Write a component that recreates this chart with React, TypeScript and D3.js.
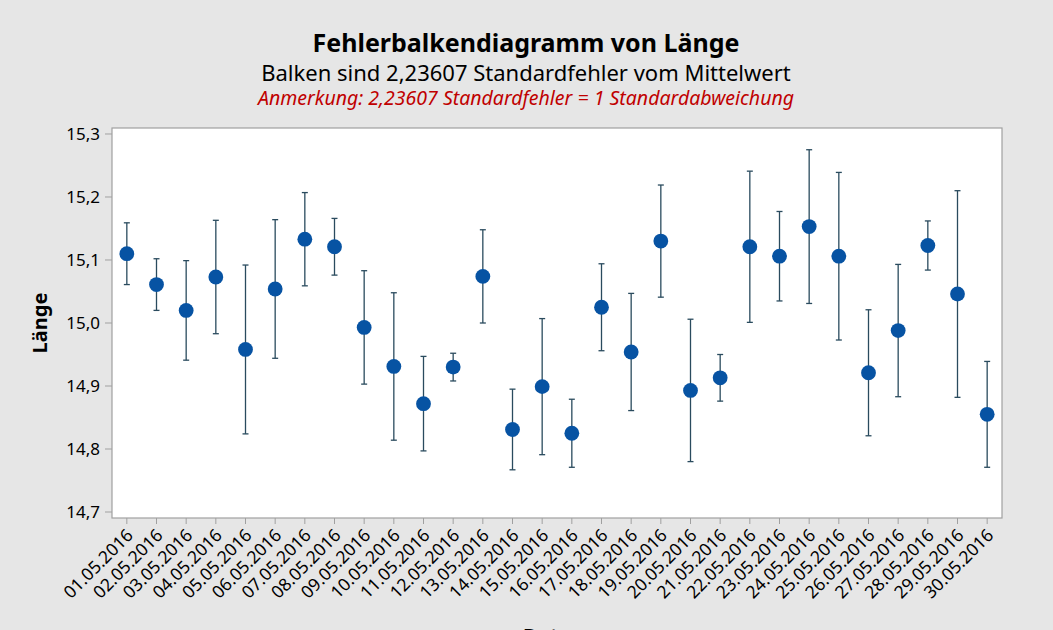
import React from 'react';
import * as d3 from 'd3';

// Fehlerbalkendiagramm (Minitab-Stil): Mittelwert ± 1 Standardabweichung je Tag
const dates = [
  '01.05.2016', '02.05.2016', '03.05.2016', '04.05.2016', '05.05.2016',
  '06.05.2016', '07.05.2016', '08.05.2016', '09.05.2016', '10.05.2016',
  '11.05.2016', '12.05.2016', '13.05.2016', '14.05.2016', '15.05.2016',
  '16.05.2016', '17.05.2016', '18.05.2016', '19.05.2016', '20.05.2016',
  '21.05.2016', '22.05.2016', '23.05.2016', '24.05.2016', '25.05.2016',
  '26.05.2016', '27.05.2016', '28.05.2016', '29.05.2016', '30.05.2016',
];

const means = [
  15.110, 15.061, 15.020, 15.073, 14.958, 15.054, 15.133, 15.121, 14.993, 14.931,
  14.872, 14.930, 15.074, 14.831, 14.899, 14.825, 15.025, 14.954, 15.130, 14.893,
  14.913, 15.121, 15.106, 15.153, 15.106, 14.921, 14.988, 15.123, 15.046, 14.855,
];

// halbe Balkenlänge = 2,23607 Standardfehler = 1 Standardabweichung
const halfWidths = [
  0.049, 0.041, 0.079, 0.090, 0.134, 0.110, 0.074, 0.045, 0.090, 0.117,
  0.075, 0.022, 0.074, 0.064, 0.108, 0.054, 0.069, 0.093, 0.089, 0.113,
  0.037, 0.120, 0.071, 0.122, 0.133, 0.100, 0.105, 0.039, 0.164, 0.084,
];

const yTicks = [14.7, 14.8, 14.9, 15.0, 15.1, 15.2, 15.3];

const W = 1053;
const H = 630;
const PLOT = { left: 112, right: 1002, top: 128, bottom: 518 };
const FONT = '"Noto Sans", "Open Sans", sans-serif';

const de = d3.formatLocale({ decimal: ',', thousands: '.', grouping: [3], currency: ['', ' €'] });
const fmt = de.format('.1f');

export default function App() {
  const x = d3.scalePoint<string>().domain(dates).range([PLOT.left, PLOT.right]).padding(0.5);
  const y = d3.scaleLinear().domain([14.6905, 15.3095]).range([PLOT.bottom, PLOT.top]);

  const cx = 526;
  const plotMid = (PLOT.left + PLOT.right) / 2;

  return (
    <svg
      width={W}
      height={H}
      style={{ position: 'absolute', left: 0, top: 0, display: 'block' }}
      fontFamily={FONT}
    >
      <rect width={W} height={H} fill="#e6e6e6" />

      {/* Titel */}
      <text x={cx} y={52} textAnchor="middle" fontSize={25} fontWeight="bold" fill="#000">
        Fehlerbalkendiagramm von Länge
      </text>
      <text x={cx} y={81} textAnchor="middle" fontSize={22} fill="#000">
        Balken sind 2,23607 Standardfehler vom Mittelwert
      </text>
      <text x={cx} y={105} textAnchor="middle" fontSize={19.5} fontStyle="italic" fill="#c00000">
        Anmerkung: 2,23607 Standardfehler = 1 Standardabweichung
      </text>

      {/* Plotfläche */}
      <rect
        x={PLOT.left}
        y={PLOT.top}
        width={PLOT.right - PLOT.left}
        height={PLOT.bottom - PLOT.top}
        fill="#ffffff"
        stroke="#a0a0a0"
        strokeWidth={1.2}
      />

      {/* Y-Achse */}
      {yTicks.map(t => (
        <g key={t}>
          <line x1={PLOT.left - 7} x2={PLOT.left} y1={y(t)} y2={y(t)} stroke="#a0a0a0" strokeWidth={1} />
          <text x={PLOT.left - 12} y={y(t)} dy="0.35em" textAnchor="end" fontSize={17} fill="#000">
            {fmt(t)}
          </text>
        </g>
      ))}
      <text
        transform={`translate(47,${(PLOT.top + PLOT.bottom) / 2}) rotate(-90)`}
        textAnchor="middle"
        fontSize={20}
        fontWeight="bold"
        fill="#000"
      >
        Länge
      </text>

      {/* X-Achse */}
      {dates.map(d => (
        <g key={d}>
          <line x1={x(d)} x2={x(d)} y1={PLOT.bottom} y2={PLOT.bottom + 6} stroke="#a0a0a0" strokeWidth={1} />
          <text
            transform={`translate(${(x(d) as number) + 3},${PLOT.bottom + 14}) rotate(-45)`}
            textAnchor="end"
            dy="0.35em"
            fontSize={17.5}
            fill="#000"
          >
            {d}
          </text>
        </g>
      ))}
      <text x={plotMid} y={643} textAnchor="middle" fontSize={20} fontWeight="bold" fill="#000">
        Datum
      </text>

      {/* Fehlerbalken und Mittelwerte */}
      {dates.map((d, i) => {
        const px = x(d) as number;
        const yHi = y(means[i] + halfWidths[i]);
        const yLo = y(means[i] - halfWidths[i]);
        return (
          <g key={d}>
            <line x1={px} x2={px} y1={yHi} y2={yLo} stroke="#2a4b5e" strokeWidth={1.3} />
            <line x1={px - 3} x2={px + 3} y1={yHi} y2={yHi} stroke="#2a4b5e" strokeWidth={1.3} />
            <line x1={px - 3} x2={px + 3} y1={yLo} y2={yLo} stroke="#2a4b5e" strokeWidth={1.3} />
            <circle cx={px} cy={y(means[i])} r={7.4} fill="#0753a3" />
          </g>
        );
      })}
    </svg>
  );
}
